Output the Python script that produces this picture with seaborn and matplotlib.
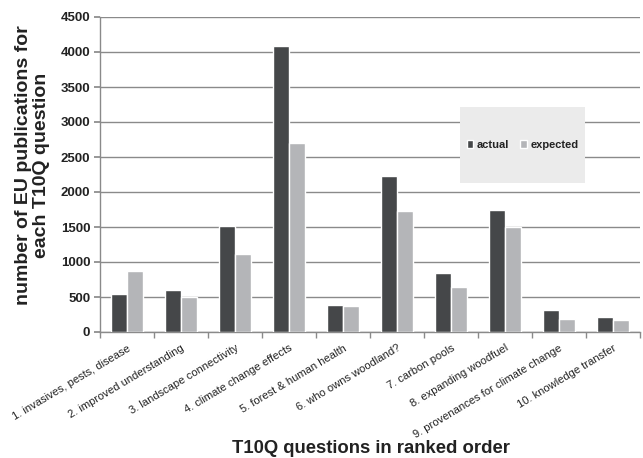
import matplotlib
matplotlib.use("Agg")
import matplotlib.pyplot as plt
import seaborn as sns
import pandas as pd
from matplotlib.patches import Rectangle

questions = [
    "1. invasives, pests, disease",
    "2. improved understanding",
    "3. landscape connectivity",
    "4. climate change effects",
    "5. forest & human health",
    "6. who owns woodland?",
    "7. carbon pools",
    "8. expanding woodfuel",
    "9. provenances for climate change",
    "10. knowledge transfer",
]
actual = [540, 600, 1510, 4090, 390, 2230, 845, 1750, 310, 215]
expected = [875, 500, 1110, 2700, 370, 1730, 645, 1500, 185, 165]
series = ["actual", "expected"]
yticks = [0, 500, 1000, 1500, 2000, 2500, 3000, 3500, 4000, 4500]

df = pd.DataFrame({
    "question": questions * 2,
    "series": [series[0]] * len(questions) + [series[1]] * len(questions),
    "value": actual + expected,
})

sns.set_theme(style="white")
plt.rcParams["font.family"] = ["Liberation Sans", "DejaVu Sans"]

fig = plt.figure(figsize=(6.43, 4.58), dpi=100)
ax = fig.add_axes([100 / 643, 1 - 332 / 458, 540 / 643, 315 / 458])

sns.barplot(
    data=df, x="question", y="value", hue="series", order=questions,
    hue_order=series, palette=["#454749", "#b4b5b8"], width=0.58,
    saturation=1, ax=ax, zorder=3,
)

ax.set_ylim(0, 4500)
ax.set_xlim(-0.5, len(questions) - 0.5)
ax.set_yticks(yticks)
ax.set_yticklabels([str(v) for v in yticks], fontsize=9.5, fontweight="bold",
                   color="#222222")
ax.yaxis.grid(True, color="#8a8a8a", linewidth=1.0, zorder=0)
ax.xaxis.grid(False)
ax.set_axisbelow(True)

for s in ["top", "right"]:
    ax.spines[s].set_visible(False)
for s in ["left", "bottom"]:
    ax.spines[s].set_color("#8a8a8a")
    ax.spines[s].set_linewidth(1.0)

ax.tick_params(axis="y", which="major", length=4, color="#8a8a8a", pad=3, left=True)
ax.set_xticks(range(len(questions)))
ax.set_xticklabels(questions, rotation=31, ha="right", rotation_mode="anchor",
                   fontsize=8, color="#222222")
ax.tick_params(axis="x", which="major", length=0, pad=8)
ax.set_xticks([i - 0.5 for i in range(len(questions) + 1)], minor=True)
ax.tick_params(axis="x", which="minor", length=4, color="#8a8a8a", bottom=True)

ax.set_ylabel("number of EU publications for\neach T10Q question", fontsize=14,
              fontweight="bold", color="#222222", linespacing=1.05)
ax.yaxis.set_label_coords(-0.093, 0.53)
ax.set_xlabel("T10Q questions in ranked order", fontsize=13.3,
              fontweight="bold", color="#222222")
ax.xaxis.set_label_coords(0.502, -0.343)

# shaded legend panel
ax.add_patch(Rectangle((0.667, 0.473), 0.231, 0.241, transform=ax.transAxes,
                       facecolor="#ebebeb", edgecolor="none", zorder=4))
leg = ax.legend(loc="center", bbox_to_anchor=(0.7825, 0.594), ncol=2,
                frameon=False, handlelength=0.6, handleheight=0.6,
                handletextpad=0.3, columnspacing=1.0,
                prop={"size": 8, "weight": "bold"})
leg.set_zorder(5)
for t in leg.get_texts():
    t.set_color("#222222")

fig.savefig("out.png", dpi=100)
